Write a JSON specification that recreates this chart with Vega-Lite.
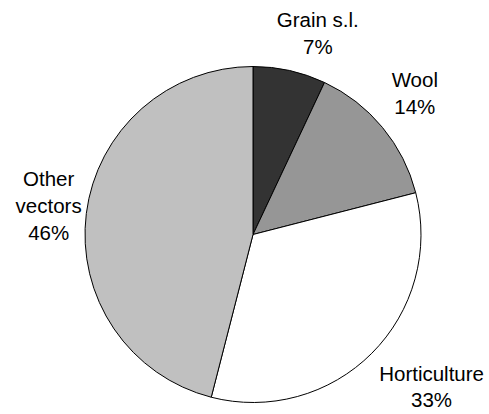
{
  "$schema": "https://vega.github.io/schema/vega-lite/v6.json",
  "width": 466,
  "height": 349,
  "autosize": {"type": "none"},
  "padding": {"left": 20, "top": 60, "right": 0, "bottom": 0},
  "background": "white",
  "data": {
    "values": [
      {"idx": 1, "name": "Grain s.l.", "value": 7, "label": "Grain s.l.\n7%"},
      {"idx": 2, "name": "Wool", "value": 14, "label": "Wool\n14%"},
      {"idx": 3, "name": "Horticulture", "value": 33, "label": "Horticulture\n33%"},
      {"idx": 4, "name": "Other vectors", "value": 46, "label": "Other\nvectors\n46%"}
    ]
  },
  "encoding": {
    "theta": {"field": "value", "type": "quantitative", "stack": true},
    "order": {"field": "idx", "type": "quantitative"}
  },
  "layer": [
    {
      "mark": {"type": "arc", "outerRadius": 168, "stroke": "black", "strokeWidth": 1},
      "encoding": {
        "color": {
          "field": "name",
          "type": "nominal",
          "scale": {
            "domain": ["Grain s.l.", "Wool", "Horticulture", "Other vectors"],
            "range": ["#333333", "#969696", "#ffffff", "#c0c0c0"]
          },
          "legend": null
        }
      }
    },
    {
      "mark": {"type": "text", "radius": 210, "dx": 0, "dy": -20, "font": "Liberation Sans", "fontSize": 20.5, "lineHeight": 27, "lineBreak": "\n", "align": "center", "baseline": "middle", "color": "black"},
      "encoding": {
        "text": {"condition": {"test": "datum.name === 'Wool'", "field": "label"}, "value": ""}
      }
    },
    {
      "mark": {"type": "text", "radius": 210, "dx": 4, "dy": -28, "font": "Liberation Sans", "fontSize": 20.5, "lineHeight": 27, "lineBreak": "\n", "align": "center", "baseline": "middle", "color": "black"},
      "encoding": {
        "text": {"condition": {"test": "datum.name === 'Other vectors'", "field": "label"}, "value": ""}
      }
    },
    {
      "mark": {"type": "text", "radius": 210, "dx": 19, "dy": -9, "font": "Liberation Sans", "fontSize": 20.5, "lineHeight": 27, "lineBreak": "\n", "align": "center", "baseline": "middle", "color": "black"},
      "encoding": {
        "text": {"condition": {"test": "datum.name === 'Grain s.l.'", "field": "label"}, "value": ""}
      }
    },
    {
      "mark": {"type": "text", "radius": 237, "dx": 11, "dy": -27, "font": "Liberation Sans", "fontSize": 20.5, "lineHeight": 26, "lineBreak": "\n", "align": "center", "baseline": "middle", "color": "black"},
      "encoding": {
        "text": {"condition": {"test": "datum.name === 'Horticulture'", "field": "label"}, "value": ""}
      }
    }
  ],
  "config": {"view": {"stroke": null}}
}
